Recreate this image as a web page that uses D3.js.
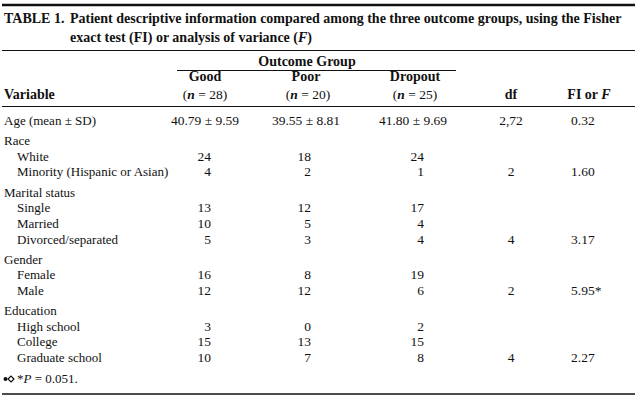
<!DOCTYPE html>
<html>
<head>
<meta charset="utf-8">
<script src="https://cdn.jsdelivr.net/npm/d3@7"></script>
<style>
  html, body { margin: 0; padding: 0; background: #fff; }
  svg text { font-family: "Liberation Serif", "DejaVu Serif", serif; fill: #111; }
</style>
</head>
<body>
<div id="chart"></div>
<script>
// ---------- data ----------
const titleLabel = "TABLE 1.";
const titleLine1 = "Patient descriptive information compared among the three outcome groups, using the Fisher";
const titleLine2 = "exact test (FI) or analysis of variance (";
const groups = ["Good", "Poor", "Dropout"];
const groupN = [28, 20, 25];
const groupHeader = "Outcome Group";

const ageLabel = "Age (mean \u00b1 SD)";
const ageMeans = ["40.79", "39.55", "41.80"];
const ageSDs = ["9.59", "8.81", "9.69"];
const ageDf = "2,72";
const ageStat = "0.32";

const categories = ["Race", "Marital status", "Gender", "Education"];
const subLabels = [
  ["White", "Minority (Hispanic or Asian)"],
  ["Single", "Married", "Divorced/separated"],
  ["Female", "Male"],
  ["High school", "College", "Graduate school"]
];
const goodCounts = [[24, 4], [13, 10, 5], [16, 12], [3, 15, 10]];
const poorCounts = [[18, 2], [12, 5, 3], [8, 12], [0, 13, 7]];
const dropoutCounts = [[24, 1], [17, 4, 4], [19, 6], [2, 15, 8]];
const dfValues = ["2", "4", "2", "4"];
const statValues = ["1.60", "3.17", "5.95*", "2.27"];
const footnote = "= 0.051.";

// ---------- layout ----------
const W = 640, H = 404;
const svg = d3.select("#chart").append("svg")
  .attr("width", W).attr("height", H)
  .attr("viewBox", `0 0 ${W} ${H}`);
svg.append("rect").attr("width", W).attr("height", H).attr("fill", "#fff");

const ink = "#111";
const fs = 13;      // labels
const fsNum = 13.5; // numbers
const fsHead = 14;  // bold headers

// column scale (centres of data columns)
const colKeys = ["good", "poor", "dropout", "df", "stat"];
const colCenter = d3.scaleOrdinal().domain(colKeys).range([205, 306, 413, 511, 589]);
const colRight = d3.scaleOrdinal().domain(["good", "poor", "dropout"]).range([211, 311, 424]);
const statLeft = 571;

// build row list
const rows = [];
rows.push({type: "age"});
categories.forEach((c, i) => {
  rows.push({type: "cat", label: c});
  subLabels[i].forEach((s, j) => {
    rows.push({
      type: "sub", label: s,
      vals: [goodCounts[i][j], poorCounts[i][j], dropoutCounts[i][j]],
      df: j === subLabels[i].length - 1 ? dfValues[i] : null,
      stat: j === subLabels[i].length - 1 ? statValues[i] : null
    });
  });
});
// cumulative vertical positions (category headers get extra space)
let acc = 0;
rows.forEach((r, i) => {
  if (i > 0) acc += (r.type === "cat") ? 1.32 : 1;
  r.pos = acc;
});
const y = d3.scaleLinear().domain([0, acc]).range([125, 362]);

// ---------- rules ----------
function rule(y0, x0, x1, w) {
  svg.append("line").attr("x1", x0).attr("x2", x1).attr("y1", y0).attr("y2", y0)
    .attr("stroke", ink).attr("stroke-width", w);
}
rule(5, 2, 635, 2.4);
rule(50.5, 2, 635, 1);
rule(70.5, 177, 456, 1);
rule(106.5, 2, 635, 1);
rule(394, 2, 635, 1.4);

// ---------- title ----------
svg.append("text").attr("x", 4).attr("y", 23).attr("font-size", 14)
  .attr("font-weight", "bold").text(titleLabel);
svg.append("text").attr("x", 70).attr("y", 23).attr("font-size", 14)
  .attr("font-weight", "bold").text(titleLine1);
const t2 = svg.append("text").attr("x", 70).attr("y", 42).attr("font-size", 14)
  .attr("font-weight", "bold");
t2.append("tspan").text(titleLine2);
t2.append("tspan").attr("font-style", "italic").text("F");
t2.append("tspan").text(")");

// ---------- header ----------
svg.append("text").attr("x", 307).attr("y", 66).attr("text-anchor", "middle")
  .attr("font-size", fsHead).attr("font-weight", "bold").text(groupHeader);
groups.forEach((g, i) => {
  const key = colKeys[i];
  svg.append("text").attr("x", colCenter(key) + (i === 2 ? 2 : 0)).attr("y", 81)
    .attr("text-anchor", "middle").attr("font-size", fsHead).attr("font-weight", "bold").text(g);
  const t = svg.append("text").attr("x", colCenter(key) + (i === 0 ? 0 : 2)).attr("y", 99)
    .attr("text-anchor", "middle").attr("font-size", fsNum);
  t.append("tspan").text("(");
  t.append("tspan").attr("font-style", "italic").attr("font-weight", "bold").text("n");
  t.append("tspan").text(" = " + groupN[i] + ")");
});
svg.append("text").attr("x", 4).attr("y", 99).attr("font-size", fsHead)
  .attr("font-weight", "bold").text("Variable");
svg.append("text").attr("x", colCenter("df")).attr("y", 99).attr("text-anchor", "middle")
  .attr("font-size", fsHead).attr("font-weight", "bold").text("df");
const fh = svg.append("text").attr("x", colCenter("stat")).attr("y", 99).attr("text-anchor", "middle")
  .attr("font-size", fsHead).attr("font-weight", "bold");
fh.append("tspan").text("FI or ");
fh.append("tspan").attr("font-style", "italic").text("F");

// ---------- body ----------
const body = svg.append("g");
rows.forEach(r => {
  const yy = y(r.pos);
  if (r.type === "age") {
    body.append("text").attr("x", 4).attr("y", yy).attr("font-size", fs).text(ageLabel);
    ageMeans.forEach((m, i) => {
      body.append("text").attr("x", colCenter(colKeys[i])).attr("y", yy)
        .attr("text-anchor", "middle").attr("font-size", fsNum)
        .text(m + " \u00b1 " + ageSDs[i]);
    });
    body.append("text").attr("x", colCenter("df")).attr("y", yy).attr("text-anchor", "middle")
      .attr("font-size", fsNum).text(ageDf);
    body.append("text").attr("x", statLeft).attr("y", yy).attr("font-size", fsNum).text(ageStat);
  } else if (r.type === "cat") {
    body.append("text").attr("x", 4).attr("y", yy).attr("font-size", fs).text(r.label);
  } else {
    body.append("text").attr("x", 17).attr("y", yy).attr("font-size", fs).text(r.label);
    r.vals.forEach((v, i) => {
      body.append("text").attr("x", colRight(colKeys[i])).attr("y", yy)
        .attr("text-anchor", "end").attr("font-size", fsNum).text(v);
    });
    if (r.df) {
      body.append("text").attr("x", colCenter("df")).attr("y", yy).attr("text-anchor", "middle")
        .attr("font-size", fsNum).text(r.df);
      body.append("text").attr("x", statLeft).attr("y", yy).attr("font-size", fsNum).text(r.stat);
    }
  }
});

// ---------- footnote ----------
svg.append("circle").attr("cx", 5.5).attr("cy", 379).attr("r", 2).attr("fill", ink);
svg.append("path").attr("d", "M8,379 L11,376 L14,379 L11,382 Z")
  .attr("fill", "none").attr("stroke", ink).attr("stroke-width", 1.2);
const fn = svg.append("text").attr("x", 17).attr("y", 383).attr("font-size", fs);
fn.append("tspan").text("*");
fn.append("tspan").attr("font-style", "italic").text("P");
fn.append("tspan").text(" " + footnote);
</script>
</body>
</html>
